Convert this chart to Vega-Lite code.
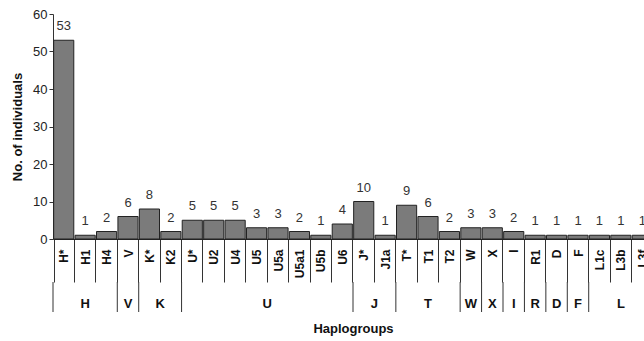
{
  "$schema": "https://vega.github.io/schema/vega-lite/v6.json",
  "padding": {"left": 11, "top": 8, "right": 5, "bottom": 5},
  "background": "white",
  "config": {
    "font": "Liberation Sans",
    "view": {"stroke": null},
    "axis": {"labelFont": "Liberation Sans", "titleFont": "Liberation Sans", "grid": false}
  },
  "data": {
    "values": [
      {"cat": "H*", "grp": "H", "n": 53},
      {"cat": "H1", "grp": "H", "n": 1},
      {"cat": "H4", "grp": "H", "n": 2},
      {"cat": "V", "grp": "V", "n": 6},
      {"cat": "K*", "grp": "K", "n": 8},
      {"cat": "K2", "grp": "K", "n": 2},
      {"cat": "U*", "grp": "U", "n": 5},
      {"cat": "U2", "grp": "U", "n": 5},
      {"cat": "U4", "grp": "U", "n": 5},
      {"cat": "U5", "grp": "U", "n": 3},
      {"cat": "U5a", "grp": "U", "n": 3},
      {"cat": "U5a1", "grp": "U", "n": 2},
      {"cat": "U5b", "grp": "U", "n": 1},
      {"cat": "U6", "grp": "U", "n": 4},
      {"cat": "J*", "grp": "J", "n": 10},
      {"cat": "J1a", "grp": "J", "n": 1},
      {"cat": "T*", "grp": "T", "n": 9},
      {"cat": "T1", "grp": "T", "n": 6},
      {"cat": "T2", "grp": "T", "n": 2},
      {"cat": "W", "grp": "W", "n": 3},
      {"cat": "X", "grp": "X", "n": 3},
      {"cat": "I", "grp": "I", "n": 2},
      {"cat": "R1", "grp": "R", "n": 1},
      {"cat": "D", "grp": "D", "n": 1},
      {"cat": "F", "grp": "F", "n": 1},
      {"cat": "L1c", "grp": "L", "n": 1},
      {"cat": "L3b", "grp": "L", "n": 1},
      {"cat": "L3f", "grp": "L", "n": 1}
    ]
  },
  "bounds": "flush",
  "spacing": 43,
  "vconcat": [
    {
      "width": 600,
      "height": 225,
      "encoding": {
        "x": {
          "field": "cat", "type": "nominal", "sort": null,
          "scale": {"paddingInner": 0.06, "paddingOuter": 0.03},
          "axis": {
            "title": null, "tickBand": "extent", "tickSize": 43, "tickColor": "#333", "tickWidth": 1,
            "domainColor": "#222", "labelAngle": 270, "labelFontWeight": "bold", "labelFontSize": 12,
            "labelColor": "#111", "labelPadding": -33
          }
        },
        "y": {
          "field": "n", "type": "quantitative",
          "scale": {"domain": [0, 60], "nice": false},
          "axis": {
            "title": "No. of individuals", "titleFontWeight": "bold", "titleFontSize": 13, "titleColor": "#111",
            "titlePadding": 8, "values": [0, 10, 20, 30, 40, 50, 60], "labelFontSize": 13, "labelColor": "#222",
            "tickSize": 4, "tickColor": "#333", "domainColor": "#333"
          }
        }
      },
      "layer": [
        {"mark": {"type": "bar", "fill": "#7b7b7b", "stroke": "#222", "strokeWidth": 1}},
        {"mark": {"type": "text", "baseline": "alphabetic", "dy": -10, "fontSize": 13, "fill": "#333"},
         "encoding": {"text": {"field": "n", "type": "quantitative"}}}
      ]
    },
    {
      "width": 600,
      "height": 30,
      "transform": [
        {"window": [{"op": "row_number", "as": "rn"}]},
        {"calculate": "datum.rn - 1", "as": "idx"},
        {"aggregate": [{"op": "min", "field": "idx", "as": "s"}, {"op": "max", "field": "idx", "as": "e"}], "groupby": ["grp"]},
        {"calculate": "(datum.s + datum.e + 1) / 2", "as": "mid"}
      ],
      "layer": [
        {
          "mark": {"type": "rule", "color": "#333", "strokeWidth": 1},
          "encoding": {
            "x": {"field": "s", "type": "quantitative",
              "scale": {"domain": [0, 28], "nice": false, "zero": false},
              "axis": {"title": "Haplogroups", "titleFontWeight": "bold", "titleFontSize": 13, "titleColor": "#111",
                "titlePadding": 10, "domain": false, "ticks": false, "labels": false}}
          }
        },
        {
          "mark": {"type": "text", "fontWeight": "bold", "fontSize": 13, "fill": "#111", "dy": 7},
          "encoding": {
            "x": {"field": "mid", "type": "quantitative"},
            "text": {"field": "grp", "type": "nominal"}
          }
        }
      ]
    }
  ]
}
